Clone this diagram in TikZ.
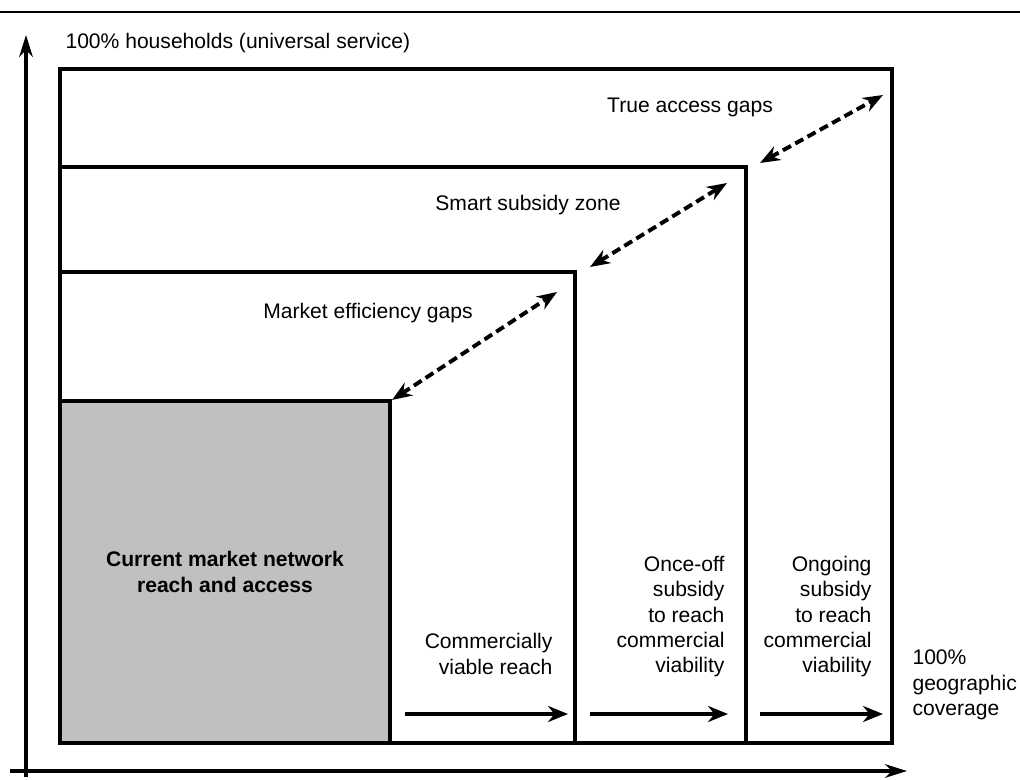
\documentclass[tikz,border=0pt]{standalone}
\usepackage{fontspec}
\setmainfont{Liberation Sans}
\usepackage{xcolor}
\usetikzlibrary{arrows.meta}
\tikzset{every picture/.style={line width=0.75pt}}
\definecolor{reachgray}{RGB}{192,192,192}

\begin{document}
\begin{tikzpicture}[font=\fontsize{15}{18}\selectfont,
  box/.style={line width=2.8pt},
  gap/.style={line width=2.8pt, dash pattern=on 6.5pt off 3.5pt,
    {Stealth[length=0.5cm,width=0.38cm]}-{Stealth[length=0.5cm,width=0.38cm]}},
  reach/.style={line width=2.8pt, -{Stealth[length=0.5cm,width=0.4cm]}},
  axis/.style={line width=2.4pt, -{Stealth[length=0.55cm,width=0.34cm]}},
  lbl/.style={inner sep=0pt}]
\useasboundingbox (0,0) rectangle (25.5,19.475);
\draw [line width=1.4pt] (0,19.175) -- (25.5,19.175);
%
% axes
\coordinate (o1) at (0.65,0.05);
\coordinate (yend) at (0.65,18.6);
\coordinate (o2) at (0.25,0.2);
\coordinate (xend) at (22.675,0.2);
\draw [axis] (o1) -- (yend);
\draw [axis] (o2) -- (xend);
%
% nested zones
\filldraw [box, fill=reachgray] (1.5,0.9) rectangle (9.75,9.45);
\draw [box] (1.5,0.9) rectangle (14.375,12.675);
\draw [box] (1.5,0.9) rectangle (18.65,15.3);
\draw [box] (1.5,0.9) rectangle (22.3,17.75);
%
\node [lbl, anchor=west] (households) at (1.625,18.4) {100\% households (universal service)};
\node [lbl] (truegap) at (17.25,16.8) {True access gaps};
\node [lbl] (smartzone) at (13.2,14.35) {Smart subsidy zone};
\node [lbl] (marketgap) at (9.2,11.65) {Market efficiency gaps};
\node [lbl, align=center, font=\fontsize{15}{18}\selectfont\bfseries] (current) at (5.625,5.175) {Current market network\\reach and access};
\node [lbl, anchor=east, align=right] (viable) at (13.825,3.125) {Commercially\\viable reach};
\node [lbl, anchor=east, align=right] (onceoff) at (18.125,4.06) {Once-off\\subsidy\\to reach\\commercial\\viability};
\node [lbl, anchor=east, align=right] (ongoing) at (21.8,4.06) {Ongoing\\subsidy\\to reach\\commercial\\viability};
\node [lbl, anchor=west, align=left] (geo) at (22.8,2.35) {100\%\\geographic\\coverage};
%
% gaps between zones
\coordinate (m1) at (9.8,9.475);
\coordinate (m2) at (13.925,12.175);
\coordinate (s1) at (14.75,12.8);
\coordinate (s2) at (18.175,14.9);
\coordinate (t1) at (19.0,15.4);
\coordinate (t2) at (22.075,17.1);
\draw [gap] (m1) -- (m2);
\draw [gap] (s1) -- (s2);
\draw [gap] (t1) -- (t2);
%
% coverage steps
\coordinate (r1a) at (10.125,1.625);
\coordinate (r1b) at (14.2,1.625);
\coordinate (r2a) at (14.75,1.625);
\coordinate (r2b) at (18.2,1.625);
\coordinate (r3a) at (19.0,1.625);
\coordinate (r3b) at (22.075,1.625);
\draw [reach] (r1a) -- (r1b);
\draw [reach] (r2a) -- (r2b);
\draw [reach] (r3a) -- (r3b);
\end{tikzpicture}
\end{document}
